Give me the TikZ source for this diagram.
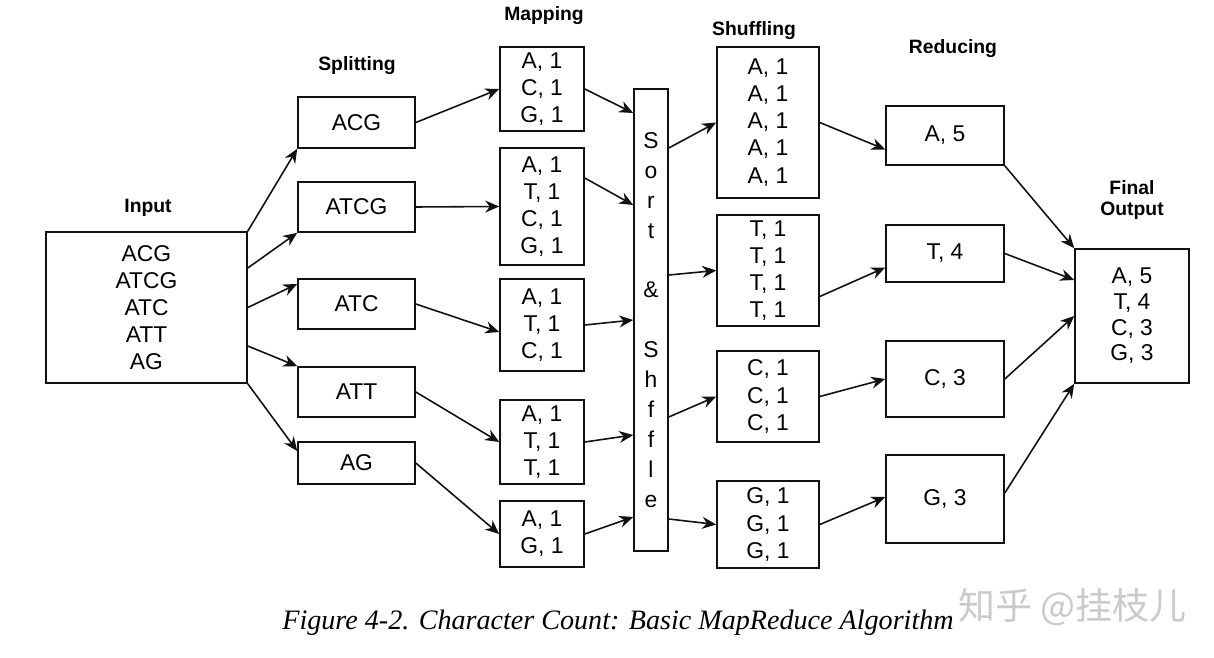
\documentclass[tikz,border=0pt]{standalone}
\usepackage{fontspec}
\setmainfont{Liberation Sans}
\newfontfamily\capfont{Liberation Serif}
\newfontfamily\cjkfont{Noto Sans CJK SC}
\usepackage{xcolor}
\definecolor{MRLine}{HTML}{111111}
\definecolor{MRMark}{HTML}{CACACA}
\usetikzlibrary{arrows.meta,calc}

\tikzset{
  mrbox/.style={rectangle,draw=MRLine,line width=0.9pt,fill=white,inner sep=0pt,
                align=center,font=\fontsize{13}{15.4}\selectfont},
  mrhead/.style={font=\fontsize{11}{12}\selectfont\bfseries,align=center,inner sep=0pt},
  mrarrow/.style={draw=MRLine,line width=0.9pt,-{Stealth[length=2.8mm,width=2.4mm]}}
}

\begin{document}
\begin{tikzpicture}[x=0.2mm,y=-0.2mm]
  \useasboundingbox[fill=white] (0,0) rectangle (1214,658);

  \node[mrbox,minimum width=40.2mm,minimum height=30.2mm] (input) at (146.5,307.5)
    {ACG\\ATCG\\ATC\\ATT\\AG};

  \node[mrbox,minimum width=23.4mm,minimum height=10.2mm] (acg)  at (356.5,122.5) {ACG};
  \node[mrbox,minimum width=23.4mm,minimum height=10mm]   (atcg) at (356.5,207)   {ATCG};
  \node[mrbox,minimum width=23.4mm,minimum height=10mm]   (atc)  at (356.5,304)   {ATC};
  \node[mrbox,minimum width=23.4mm,minimum height=10mm]   (att)  at (356.5,392)   {ATT};
  \node[mrbox,minimum width=23.4mm,minimum height=8.4mm]  (ag)   at (356.5,463)   {AG};

  \node[mrbox,minimum width=16.8mm,minimum height=16.8mm] (mapa) at (542,89)    {A, 1\\C, 1\\G, 1};
  \node[mrbox,minimum width=16.8mm,minimum height=23.4mm] (mapb) at (542,206.5) {A, 1\\T, 1\\C, 1\\G, 1};
  \node[mrbox,minimum width=16.8mm,minimum height=18.4mm] (mapc) at (542,325)   {A, 1\\T, 1\\C, 1};
  \node[mrbox,minimum width=16.8mm,minimum height=16.8mm] (mapd) at (542,442)   {A, 1\\T, 1\\T, 1};
  \node[mrbox,minimum width=16.8mm,minimum height=13.2mm] (mape) at (542,534)   {A, 1\\G, 1};

  \node[mrbox,minimum width=6.8mm,minimum height=92.4mm,font=\fontsize{13}{17}\selectfont]
    (sort) at (651,320) {S\\o\\r\\t\\[17pt]\&\\[17pt]S\\h\\f\\f\\l\\e};

  \node[mrbox,minimum width=20.4mm,minimum height=30.2mm] (shufa) at (768,122.5) {A, 1\\A, 1\\A, 1\\A, 1\\A, 1};
  \node[mrbox,minimum width=20.4mm,minimum height=22.2mm] (shufb) at (768,270.5) {T, 1\\T, 1\\T, 1\\T, 1};
  \node[mrbox,minimum width=20.4mm,minimum height=18.2mm] (shufc) at (768,396.5) {C, 1\\C, 1\\C, 1};
  \node[mrbox,minimum width=20.4mm,minimum height=17.4mm] (shufd) at (768,524.5) {G, 1\\G, 1\\G, 1};

  \node[mrbox,minimum width=23.6mm,minimum height=11.8mm] (reda) at (945,135.5) {A, 5};
  \node[mrbox,minimum width=23.6mm,minimum height=11.4mm] (redb) at (945,253.5) {T, 4};
  \node[mrbox,minimum width=23.6mm,minimum height=15.2mm] (redc) at (945,379)   {C, 3};
  \node[mrbox,minimum width=23.6mm,minimum height=17.6mm] (redd) at (945,499)   {G, 3};

  \node[mrbox,minimum width=22.8mm,minimum height=26.8mm,font=\fontsize{13}{14.6}\selectfont]
    (final) at (1132,316) {A, 5\\T, 4\\C, 3\\G, 3};

  \node[mrhead] (headinput) at (148,208)  {Input};
  \node[mrhead] (headsplit) at (357,66)   {Splitting};
  \node[mrhead] (headmap)   at (544,16)   {Mapping};
  \node[mrhead] (headshuf)  at (754,31)   {Shuffling};
  \node[mrhead] (headred)   at (953,49)   {Reducing};
  \node[mrhead] (headfinal) at (1132,200) {Final\\Output};

  \draw[mrarrow] (input.north east) -- (acg.south west);
  \draw[mrarrow] ($(input.east)+(0,-39.5)$) -- (atcg.south west);
  \draw[mrarrow] (input.east) -- ($(atc.west)+(0,-20)$);
  \draw[mrarrow] ($(input.east)+(0,38.5)$) -- (att.north west);
  \draw[mrarrow] (input.south east) -- ($(ag.west)+(0,-12)$);

  \draw[mrarrow] (acg.east)  -- (mapa.west);
  \draw[mrarrow] (atcg.east) -- (mapb.west);
  \draw[mrarrow] (atc.east)  -- ($(mapc.west)+(0,7)$);
  \draw[mrarrow] (att.east)  -- (mapd.west);
  \draw[mrarrow] (ag.east)   -- (mape.west);

  \draw[mrarrow] (mapa.east) -- ($(sort.west)+(0,-207)$);
  \draw[mrarrow] ($(mapb.east)+(0,-28.5)$) -- ($(sort.west)+(0,-115)$);
  \draw[mrarrow] (mapc.east) -- (sort.west);
  \draw[mrarrow] (mapd.east) -- ($(sort.west)+(0,115)$);
  \draw[mrarrow] (mape.east) -- ($(sort.west)+(0,197)$);

  \draw[mrarrow] ($(sort.east)+(0,-172)$) -- (shufa.west);
  \draw[mrarrow] ($(sort.east)+(0,-45)$)  -- (shufb.west);
  \draw[mrarrow] ($(sort.east)+(0,97)$)   -- (shufc.west);
  \draw[mrarrow] ($(sort.east)+(0,199)$)  -- (shufd.west);

  \draw[mrarrow] (shufa.east) -- ($(reda.west)+(0,14)$);
  \draw[mrarrow] ($(shufb.east)+(0,26)$) -- ($(redb.west)+(0,14)$);
  \draw[mrarrow] (shufc.east) -- (redc.west);
  \draw[mrarrow] (shufd.east) -- ($(redd.west)+(0,-2)$);

  \draw[mrarrow] (reda.south east) -- (final.north west);
  \draw[mrarrow] (redb.east) -- ($(final.west)+(0,-36)$);
  \draw[mrarrow] (redc.east) -- (final.west);
  \draw[mrarrow] ($(redd.east)+(0,-6)$) -- (final.south west);

  \node[anchor=base west,inner sep=0pt,font=\capfont\itshape\fontsize{16}{18}\selectfont]
    (caption) at (282,629) {Figure 4-2. Character Count: Basic MapReduce Algorithm};
  \node[anchor=base west,inner sep=0pt,text=MRMark,font=\cjkfont\fontsize{21}{22}\selectfont]
    (mark) at (958,619) {知乎 @挂枝儿};
\end{tikzpicture}
\end{document}
